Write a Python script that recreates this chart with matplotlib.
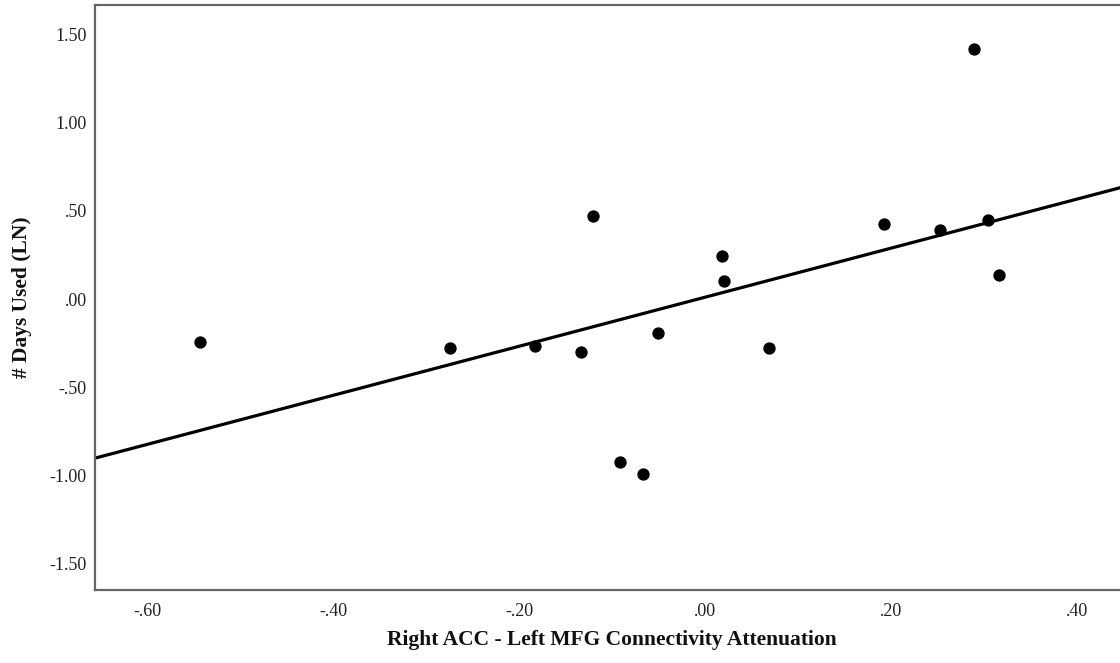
import numpy as np
import matplotlib.pyplot as plt
from matplotlib.ticker import FuncFormatter

# Connectivity attenuation (x) vs. log days used (y)
attenuation = [-0.543, -0.274, -0.183, -0.134, -0.121, -0.092, -0.067, -0.051,
               0.018, 0.020, 0.069, 0.192, 0.252, 0.289, 0.304, 0.316]
days_used_ln = [-0.246, -0.280, -0.267, -0.303, 0.473, -0.924, -0.994, -0.191,
                0.246, 0.104, -0.280, 0.424, 0.392, 1.420, 0.449, 0.136]

x_ticks = [-0.6, -0.4, -0.2, 0.0, 0.2, 0.4]
y_ticks = [-1.5, -1.0, -0.5, 0.0, 0.5, 1.0, 1.5]

plt.rcParams['font.family'] = ['Liberation Serif', 'DejaVu Serif']


def spss_fmt(v, pos):
    s = '%.2f' % v
    if s.startswith('0.'):
        s = s[1:]
    elif s.startswith('-0.'):
        s = '-' + s[2:]
    return s


fig = plt.figure(figsize=(11.2, 6.63), dpi=100)
ax = fig.add_axes([0.0848, 0.110, 1.0 - 0.0848, 0.8825])

ax.scatter(attenuation, days_used_ln, s=62, color='black', zorder=3)

# linear fit line across the full x range
slope, intercept = np.polyfit(attenuation, days_used_ln, 1)
xlim = (-0.656, 0.446)
xs = np.array(xlim)
ax.plot(xs, slope * xs + intercept, color='black', linewidth=2.3, zorder=2)

ax.set_xlim(*xlim)
ax.set_ylim(-1.653, 1.67)
ax.set_xticks(x_ticks)
ax.set_yticks(y_ticks)
ax.xaxis.set_major_formatter(FuncFormatter(spss_fmt))
ax.yaxis.set_major_formatter(FuncFormatter(spss_fmt))
ax.tick_params(axis='both', length=0, labelsize=13, colors='#222222')
ax.tick_params(axis='x', pad=9)
ax.tick_params(axis='y', pad=6)

for side in ['left', 'bottom', 'top']:
    ax.spines[side].set_color('#666666')
    ax.spines[side].set_linewidth(1.6)
ax.spines['right'].set_visible(False)

fig.text(612 / 1120, 1 - 640 / 663, 'Right ACC - Left MFG Connectivity Attenuation',
         fontsize=15.5, fontweight='bold', ha='center', va='center', color='#111111')
fig.text(22 / 1120, 1 - 297 / 663, '# Days Used (LN)', rotation=90,
         fontsize=15.5, fontweight='bold', ha='center', va='center', color='#111111')

fig.savefig('out.png', dpi=100)
